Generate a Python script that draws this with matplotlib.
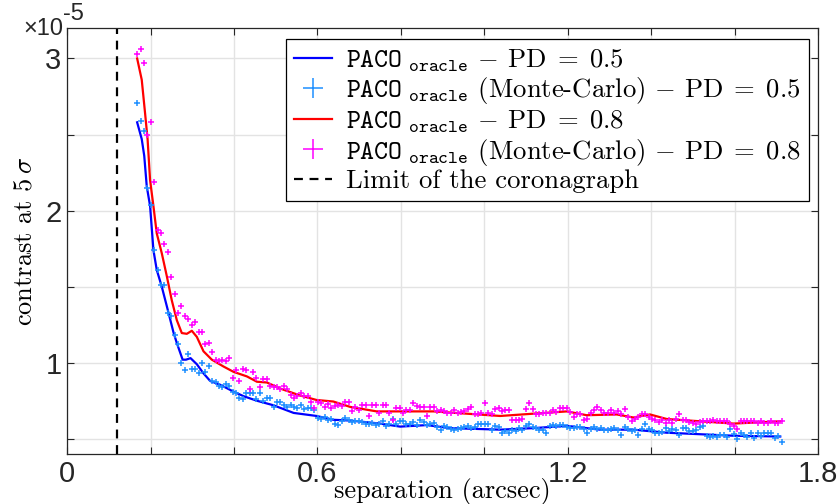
import numpy as np
import matplotlib
matplotlib.use('Agg')
import matplotlib.pyplot as plt
from matplotlib.ticker import FixedLocator, FixedFormatter

plt.rcParams['mathtext.fontset'] = 'cm'
plt.rcParams['font.family'] = 'Liberation Sans'

# ---- data (contrast in units of 1e-5) ----
coronagraph_limit = 0.12

# smooth curves: PACO oracle, PD = 0.5
sep_05 = [0.168, 0.179, 0.185, 0.191, 0.199, 0.207, 0.215, 0.227, 0.243, 0.255,
          0.263, 0.277, 0.285, 0.296, 0.311, 0.327, 0.343, 0.367, 0.399, 0.423,
          0.455, 0.495, 0.543, 0.598, 0.638, 0.678, 0.750, 0.798, 0.862, 0.918,
          0.980, 1.038, 1.117, 1.198, 1.277, 1.357, 1.437, 1.517, 1.597, 1.709]
con_05 = [2.58, 2.47, 2.36, 2.16, 2.03, 1.74, 1.61, 1.50, 1.33, 1.20,
          1.13, 1.02, 1.02, 1.03, 0.99, 0.93, 0.88, 0.855, 0.81, 0.78,
          0.75, 0.72, 0.67, 0.65, 0.625, 0.62, 0.60, 0.58, 0.59, 0.57,
          0.565, 0.56, 0.57, 0.585, 0.56, 0.56, 0.54, 0.53, 0.52, 0.515]

# smooth curves: PACO oracle, PD = 0.8
sep_08 = [0.168, 0.179, 0.187, 0.193, 0.199, 0.207, 0.215, 0.227, 0.239, 0.251,
          0.263, 0.275, 0.287, 0.299, 0.311, 0.327, 0.347, 0.375, 0.399, 0.431,
          0.455, 0.479, 0.511, 0.558, 0.598, 0.638, 0.678, 0.742, 0.798, 0.878,
          0.958, 1.038, 1.117, 1.198, 1.245, 1.317, 1.357, 1.397, 1.437, 1.517,
          1.597, 1.709]
con_08 = [3.00, 2.86, 2.64, 2.47, 2.20, 2.03, 1.85, 1.72, 1.57, 1.41,
          1.28, 1.195, 1.19, 1.21, 1.17, 1.075, 1.02, 0.975, 0.94, 0.91,
          0.875, 0.87, 0.83, 0.785, 0.755, 0.745, 0.71, 0.68, 0.68, 0.68,
          0.665, 0.65, 0.665, 0.68, 0.655, 0.66, 0.64, 0.66, 0.63, 0.615,
          0.60, 0.615]

# Monte-Carlo estimates, regular separation grid
sep_mc = np.linspace(0.168, 1.712, 190)
mc_05 = [2.71, 2.59, 2.52, 2.15, 2.04, 1.74, 1.61, 1.51, 1.51, 1.33,
         1.31, 1.18, 1.12, 1.00, 0.95, 1.06, 0.96, 0.96, 0.93, 1.00,
         0.94, 0.98, 0.88, 0.87, 0.85, 0.84, 0.86, 0.85, 0.81, 0.80,
         0.77, 0.76, 0.80, 0.80, 0.80, 0.76, 0.80, 0.75, 0.77, 0.77,
         0.71, 0.74, 0.74, 0.72, 0.71, 0.72, 0.71, 0.70, 0.72, 0.695,
         0.70, 0.70, 0.69, 0.635, 0.63, 0.64, 0.625, 0.63, 0.60, 0.59,
         0.62, 0.635, 0.625, 0.61, 0.62, 0.615, 0.61, 0.60, 0.60, 0.605,
         0.59, 0.60, 0.615, 0.585, 0.60, 0.63, 0.60, 0.615, 0.62, 0.60,
         0.60, 0.61, 0.59, 0.625, 0.61, 0.59, 0.60, 0.605, 0.58, 0.56,
         0.585, 0.575, 0.565, 0.56, 0.565, 0.57, 0.58, 0.585, 0.57, 0.575,
         0.60, 0.60, 0.60, 0.595, 0.56, 0.585, 0.575, 0.54, 0.55, 0.54,
         0.56, 0.55, 0.57, 0.555, 0.585, 0.60, 0.58, 0.57, 0.56, 0.56,
         0.54, 0.585, 0.59, 0.585, 0.59, 0.59, 0.58, 0.57, 0.57, 0.58,
         0.58, 0.565, 0.54, 0.565, 0.58, 0.565, 0.57, 0.56, 0.56, 0.565,
         0.57, 0.56, 0.525, 0.575, 0.565, 0.55, 0.56, 0.525, 0.565, 0.60,
         0.565, 0.56, 0.54, 0.54, 0.545, 0.57, 0.55, 0.565, 0.555, 0.525,
         0.57, 0.57, 0.55, 0.55, 0.56, 0.575, 0.585, 0.52, 0.515, 0.52,
         0.51, 0.525, 0.525, 0.515, 0.565, 0.53, 0.50, 0.54, 0.525, 0.515,
         0.535, 0.505, 0.535, 0.52, 0.54, 0.54, 0.54, 0.505, 0.52, 0.48]
mc_08 = [3.03, 3.06, 2.97, 2.50, 2.58, 2.19, 1.875, 1.855, 1.78, 1.725,
         1.565, 1.45, 1.33, 1.37, 1.31, 1.29, 1.25, 1.27, 1.20, 1.20,
         1.12, 1.13, 1.07, 1.02, 1.01, 1.02, 1.01, 1.03, 0.90, 0.95,
         0.88, 0.96, 0.95, 0.83, 0.94, 0.90, 0.84, 0.89, 0.89, 0.85,
         0.84, 0.84, 0.83, 0.85, 0.83, 0.79, 0.77, 0.78, 0.80, 0.78,
         0.78, 0.745, 0.70, 0.745, 0.735, 0.71, 0.73, 0.70, 0.715, 0.72,
         0.715, 0.74, 0.74, 0.68, 0.71, 0.69, 0.72, 0.72, 0.65, 0.72,
         0.72, 0.67, 0.72, 0.72, 0.67, 0.625, 0.70, 0.70, 0.67, 0.69,
         0.69, 0.735, 0.715, 0.71, 0.71, 0.65, 0.71, 0.71, 0.68, 0.69,
         0.68, 0.67, 0.67, 0.69, 0.67, 0.675, 0.68, 0.695, 0.71, 0.665,
         0.665, 0.67, 0.735, 0.67, 0.665, 0.695, 0.705, 0.68, 0.69, 0.69,
         0.625, 0.625, 0.625, 0.63, 0.695, 0.735, 0.695, 0.66, 0.66, 0.67,
         0.67, 0.67, 0.69, 0.675, 0.70, 0.70, 0.70, 0.675, 0.645, 0.66,
         0.66, 0.625, 0.63, 0.67, 0.69, 0.71, 0.69, 0.67, 0.67, 0.69,
         0.67, 0.68, 0.665, 0.695, 0.645, 0.615, 0.63, 0.645, 0.665, 0.66,
         0.645, 0.63, 0.625, 0.61, 0.625, 0.605, 0.625, 0.605, 0.63, 0.665,
         0.625, 0.625, 0.61, 0.605, 0.595, 0.61, 0.615, 0.615, 0.62, 0.625,
         0.62, 0.62, 0.62, 0.615, 0.60, 0.585, 0.565, 0.62, 0.62, 0.62,
         0.62, 0.62, 0.605, 0.62, 0.605, 0.605, 0.62, 0.605, 0.605, 0.615]

x_ticks = [0, 0.2, 0.4, 0.6, 0.8, 1.0, 1.2, 1.4, 1.6, 1.8]
x_labels = ['0', '', '', '0.6', '', '', '1.2', '', '', '1.8']
y_ticks = [0.5, 1.0, 1.5, 2.0, 2.5, 3.0]
y_labels = ['', '1', '', '2', '', '3']

paco = r'$\mathtt{PACO}_{\ \mathtt{oracle}}$'

# ---- figure ----
fig = plt.figure(figsize=(8.4, 5.04), dpi=100)
ax = fig.add_axes([0.0798, 0.0992, 0.8943, 0.8452])

ax.plot(sep_05, con_05, color='#0000ff', lw=1.6, zorder=3,
        label=paco + r' $-$ PD$\;=\;$0.5')
ax.plot(sep_mc, mc_05, ls='none', marker='+', ms=4.5, mew=1.1, color='#1e8fff', zorder=4,
        label=paco + r' (Monte-Carlo) $-$ PD$\;=\;$0.5')
ax.plot(sep_08, con_08, color='#ff0000', lw=1.6, zorder=3,
        label=paco + r' $-$ PD$\;=\;$0.8')
ax.plot(sep_mc, mc_08, ls='none', marker='+', ms=4.5, mew=1.1, color='#ff00ff', zorder=4,
        label=paco + r' (Monte-Carlo) $-$ PD$\;=\;$0.8')
ax.axvline(coronagraph_limit, color='black', lw=1.6, ls=(0, (4, 3)), zorder=2,
           label='Limit of the coronagraph')

ax.set_xlim(0, 1.8)
ax.set_ylim(0.4, 3.2)
ax.xaxis.set_major_locator(FixedLocator(x_ticks))
ax.xaxis.set_major_formatter(FixedFormatter(x_labels))
ax.yaxis.set_major_locator(FixedLocator(y_ticks))
ax.yaxis.set_major_formatter(FixedFormatter(y_labels))
ax.tick_params(direction='in', top=True, right=True, length=5, width=0.8,
               color='#262626', labelsize=21, labelcolor='#262626', pad=4)
ax.grid(True, color='#e3e3e3', lw=1.0)
ax.set_axisbelow(True)
for s in ax.spines.values():
    s.set_color('#262626')
    s.set_linewidth(0.9)

ax.set_xlabel('separation (arcsec)', fontsize=19, family='cmr10')
ax.set_ylabel(r'contrast at 5$\,\sigma$', fontsize=19, family='cmr10')
ax.xaxis.set_label_coords(0.5, -0.057)
ax.yaxis.set_label_coords(-0.041, 0.5)

fig.text(63 / 840, 1 - 35 / 504, '\u00d710', ha='right', va='baseline',
         fontsize=17, color='#262626')
fig.text(63 / 840, 1 - 20 / 504, '-5', ha='left', va='baseline',
         fontsize=17, color='#262626')

leg = ax.legend(loc='upper right', bbox_to_anchor=(0.988, 0.974),
                prop={'family': 'cmr10', 'size': 19.2}, frameon=True, fancybox=False,
                framealpha=1, edgecolor='black', handlelength=1.4, handletextpad=0.55,
                labelspacing=0.07, borderpad=0.3, borderaxespad=0, markerscale=3.3)
leg.get_frame().set_linewidth(0.9)

fig.savefig('out.png', dpi=100)
